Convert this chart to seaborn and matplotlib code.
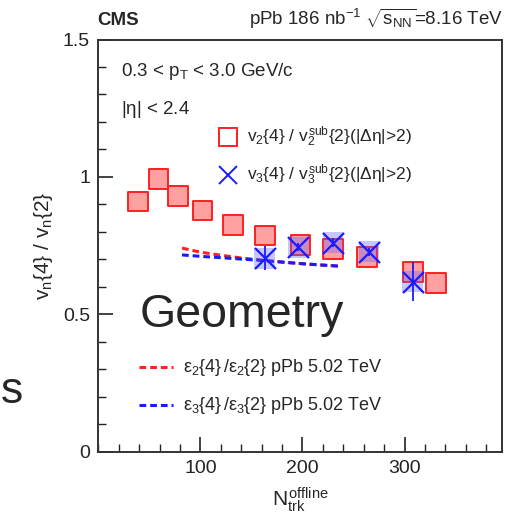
import matplotlib
matplotlib.use("Agg")
import matplotlib.pyplot as plt
import seaborn as sns
import numpy as np
import pandas as pd
from matplotlib.ticker import MultipleLocator

# ---- data ----
nch_v2 = [39, 59, 78, 102, 132, 163, 198, 230, 263, 308, 331]
ratio_v2 = [0.910, 0.993, 0.931, 0.878, 0.826, 0.787, 0.753, 0.738, 0.708, 0.655, 0.615]

nch_v3 = [163, 196, 230, 265, 308]
ratio_v3 = [0.704, 0.744, 0.761, 0.728, 0.619]
err_v3 = [0.044, 0.015, 0.015, 0.015, 0.070]

nch_geo = [82, 100, 120, 140, 160, 180, 200, 220, 237]
eps2_ratio = [0.741, 0.726, 0.715, 0.705, 0.697, 0.690, 0.684, 0.679, 0.675]
eps3_ratio = [0.716, 0.711, 0.706, 0.701, 0.696, 0.690, 0.684, 0.679, 0.675]

xticks = [100, 200, 300]
yticks = [0, 0.5, 1, 1.5]
yticklabels = ["0", "0.5", "1", "1.5"]

sns.set_theme(style="ticks")
plt.rcParams["font.family"] = ["Liberation Sans", "DejaVu Sans"]
plt.rcParams["mathtext.fontset"] = "custom"
plt.rcParams["mathtext.rm"] = "Liberation Sans"
plt.rcParams["mathtext.it"] = "Liberation Sans"
plt.rcParams["mathtext.bf"] = "Liberation Sans:bold"
plt.rcParams["mathtext.sf"] = "Liberation Sans"

W, H = 526, 519
fig = plt.figure(figsize=(W / 100, H / 100), dpi=100)
ax = fig.add_axes([98.3 / W, 1 - 451.7 / H, (501.5 - 98.3) / W, (451.7 - 39.5) / H])

df2 = pd.DataFrame({"n": nch_v2, "r": ratio_v2})
df3 = pd.DataFrame({"n": nch_v3, "r": ratio_v3})
dgeo = pd.DataFrame({"n": nch_geo, "e2": eps2_ratio, "e3": eps3_ratio})

red = "#ff2020"
blue = "#1a1aff"
dash = (0, (2.2, 1.3))

# red systematic boxes + open markers
sns.scatterplot(data=df2, x="n", y="r", marker="s", s=200, color="#ff8a8a",
                alpha=0.8, edgecolor="none", ax=ax, zorder=3, legend=False)
sns.scatterplot(data=df2, x="n", y="r", marker="s", s=200, facecolor="none",
                edgecolor=red, linewidth=1.4, ax=ax, zorder=4, legend=False)

# geometry dashed lines
sns.lineplot(data=dgeo, x="n", y="e2", color=red, linestyle=dash,
             linewidth=2.2, ax=ax, zorder=5)
sns.lineplot(data=dgeo, x="n", y="e3", color=blue, linestyle=dash,
             linewidth=2.2, ax=ax, zorder=5)

# blue systematic boxes + X markers
sns.scatterplot(data=df3, x="n", y="r", marker="s", s=220, color="#6060ff",
                alpha=0.35, edgecolor="none", ax=ax, zorder=6, legend=False)
ax.errorbar(nch_v3, ratio_v3, yerr=err_v3, fmt="none", ecolor=blue,
            elinewidth=1.3, capsize=0, zorder=7)
sns.scatterplot(data=df3, x="n", y="r", marker="x", s=230, color=blue,
                linewidth=1.6, ax=ax, zorder=8, legend=False)

ax.set_xlim(0, 395)
ax.set_ylim(0, 1.5)
ax.set_xticks(xticks)
ax.set_yticks(yticks)
ax.set_yticklabels(yticklabels)
ax.xaxis.set_minor_locator(MultipleLocator(20))
ax.yaxis.set_minor_locator(MultipleLocator(0.1))
ax.tick_params(axis="both", which="major", direction="in", length=11, width=1.2,
               labelsize=14, colors="#222222", pad=6)
ax.tick_params(axis="both", which="minor", direction="in", length=5.5, width=1.0,
               colors="#222222")
ax.tick_params(top=False, right=False, which="both")
for sp in ax.spines.values():
    sp.set_linewidth(1.4)
    sp.set_color("#333333")
ax.set_xlabel(r"$N_{\mathrm{trk}}^{\mathrm{offline}}$", fontsize=15, labelpad=6)
ax.set_ylabel(r"$v_{n}\{4\}\ /\ v_{n}\{2\}$", fontsize=15, labelpad=6)

def fx(px):
    return px / W

def fy(py):
    return 1 - py / H

# header
fig.text(fx(97), fy(25), "CMS", fontsize=13.5, fontweight="bold", ha="left", va="baseline")
fig.text(fx(503), fy(25), r"pPb 186 nb$^{-1}$ $\sqrt{s_{\mathrm{NN}}}$=8.16 TeV",
         fontsize=13.5, ha="right", va="baseline")

# selection text
fig.text(fx(121), fy(72), r"0.3 < p$_{\mathrm{T}}$ < 3.0 GeV/c", fontsize=13.5, ha="left", va="center")
fig.text(fx(121), fy(110), r"|$\eta$| < 2.4", fontsize=13.5, ha="left", va="center")

# legend top
fig.text(fx(247), fy(137), r"$v_{2}\{4\}$ / $v_{2}^{\mathrm{sub}}\{2\}$(|$\Delta\eta$|>2)",
         fontsize=12.5, ha="left", va="center")
fig.text(fx(247), fy(175), r"$v_{3}\{4\}$ / $v_{3}^{\mathrm{sub}}\{2\}$(|$\Delta\eta$|>2)",
         fontsize=12.5, ha="left", va="center")
lax = fig.add_axes([0, 0, 1, 1], facecolor="none")
lax.set_xlim(0, W)
lax.set_ylim(H, 0)
lax.axis("off")
lax.plot([227.5], [137], marker="s", markersize=13, markerfacecolor="none",
         markeredgecolor=red, markeredgewidth=1.4)
lax.plot([227.5], [175], marker="x", markersize=13, color=blue, markeredgewidth=1.4)
lax.plot([139, 173], [367, 367], color=red, linestyle=dash, linewidth=2.2)
lax.plot([139, 173], [405, 405], color=blue, linestyle=dash, linewidth=2.2)

fig.text(fx(183), fy(367), r"$\varepsilon_{2}\{4\}\,/\varepsilon_{2}\{2\}$ pPb 5.02 TeV",
         fontsize=13, ha="left", va="center")
fig.text(fx(183), fy(405), r"$\varepsilon_{3}\{4\}\,/\varepsilon_{3}\{2\}$ pPb 5.02 TeV",
         fontsize=13, ha="left", va="center")

# Geometry annotation and left-edge letter
fig.text(fx(140), fy(327), "Geometry", fontsize=33.5, ha="left", va="baseline")
fig.text(fx(1), fy(403), "s", fontsize=32, ha="left", va="baseline")

fig.savefig("out.png", dpi=100)
